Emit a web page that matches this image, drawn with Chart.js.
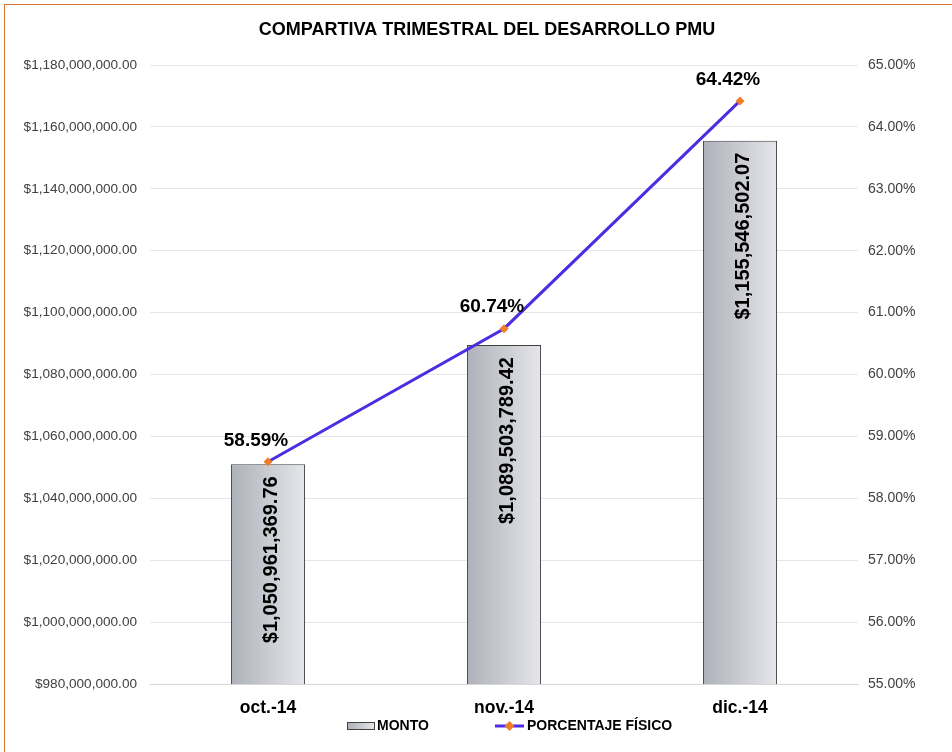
<!DOCTYPE html>
<html>
<head>
<meta charset="utf-8">
<script src="https://cdn.jsdelivr.net/npm/chart.js@4.4.1/dist/chart.umd.min.js"></script>
<style>
  html, body { margin: 0; padding: 0; background: #fff; }
  #wrap { position: relative; width: 952px; height: 752px; }
  #frame { position: absolute; left: 4px; top: 4px; width: 960px; height: 760px;
           border-left: 1.5px solid #dd7337; border-top: 1.5px solid #dd7337; pointer-events: none; }
</style>
</head>
<body>
<div id="wrap">
  <canvas id="chart" width="952" height="752"></canvas>
  <div id="frame"></div>
</div>
<script>
const meses = ['oct.-14', 'nov.-14', 'dic.-14'];
const montos = [1050961369.76, 1089503789.42, 1155546502.07];
const porcentajes = [58.59, 60.74, 64.42];

const FONT = "'Liberation Sans', Arial, sans-serif";
const LINE_COLOR = '#4d2ce2';
const MARKER_COLOR = '#f07d2a';
const BAR_PCT = 0.314;

function money(v) {
  return '$' + v.toLocaleString('en-US', {minimumFractionDigits: 2, maximumFractionDigits: 2});
}

function barGradient(ctx, x0, x1) {
  const g = ctx.createLinearGradient(x0, 0, x1, 0);
  g.addColorStop(0, '#aeb1b9');
  g.addColorStop(1, '#e5e6ea');
  return g;
}

// rotated labels in bars, percentages over the points
const valueLabels = {
  id: 'valueLabels',
  afterDatasetsDraw(chart) {
    const ctx = chart.ctx;
    ctx.save();
    ctx.fillStyle = '#000';
    ctx.font = 'bold 20px ' + FONT;
    chart.getDatasetMeta(0).data.forEach((el, i) => {
      ctx.save();
      ctx.translate(el.x + 3, el.y + 12);
      ctx.rotate(-Math.PI / 2);
      ctx.textAlign = 'right';
      ctx.textBaseline = 'middle';
      ctx.fillText(money(montos[i]), 0, 0);
      ctx.restore();
    });
    ctx.font = 'bold 19px ' + FONT;
    ctx.textAlign = 'center';
    ctx.textBaseline = 'bottom';
    chart.getDatasetMeta(1).data.forEach((pt, i) => {
      ctx.fillText(porcentajes[i].toFixed(2) + '%', pt.x - 12, pt.y - 12);
    });
    ctx.restore();
  },
  afterDraw(chart) {
    const ctx = chart.ctx;
    const y = 726;
    ctx.save();
    // MONTO
    ctx.fillStyle = barGradient(ctx, 347, 375);
    ctx.fillRect(347, y - 4, 28, 8);
    ctx.strokeStyle = '#404040';
    ctx.lineWidth = 1;
    ctx.strokeRect(347.5, y - 3.5, 27, 7);
    ctx.fillStyle = '#000';
    ctx.font = 'bold 14px ' + FONT;
    ctx.textBaseline = 'middle';
    ctx.textAlign = 'left';
    ctx.fillText(chart.data.datasets[0].label, 377, y);
    // PORCENTAJE FÍSICO
    ctx.strokeStyle = LINE_COLOR;
    ctx.lineWidth = 3;
    ctx.beginPath();
    ctx.moveTo(495, y);
    ctx.lineTo(524, y);
    ctx.stroke();
    ctx.fillStyle = MARKER_COLOR;
    ctx.beginPath();
    ctx.moveTo(509.5, y - 5);
    ctx.lineTo(514.5, y);
    ctx.lineTo(509.5, y + 5);
    ctx.lineTo(504.5, y);
    ctx.closePath();
    ctx.fill();
    ctx.fillStyle = '#000';
    ctx.fillText(chart.data.datasets[1].label, 527, y);
    ctx.restore();
  }
};

new Chart(document.getElementById('chart'), {
  type: 'bar',
  data: {
    labels: meses,
    datasets: [
      {
        type: 'bar',
        label: 'MONTO',
        data: montos,
        yAxisID: 'y',
        order: 1,
        backgroundColor: (c) => {
          const chart = c.chart;
          if (!chart.chartArea || !chart.scales.x) return '#c8cacf';
          const x = chart.scales.x.getPixelForValue(c.dataIndex);
          const hw = chart.chartArea.width / meses.length * BAR_PCT / 2;
          return barGradient(chart.ctx, x - hw, x + hw);
        },
        borderColor: '#404040',
        borderWidth: 1,
        categoryPercentage: 1,
        barPercentage: BAR_PCT
      },
      {
        type: 'line',
        label: 'PORCENTAJE FÍSICO',
        data: porcentajes,
        yAxisID: 'y1',
        order: 0,
        borderColor: LINE_COLOR,
        borderWidth: 3,
        pointStyle: 'rectRot',
        pointRadius: 4.5,
        pointBackgroundColor: MARKER_COLOR,
        pointBorderColor: MARKER_COLOR,
        pointBorderWidth: 0,
        tension: 0
      }
    ]
  },
  options: {
    responsive: false,
    animation: false,
    layout: { padding: { left: 22, right: 0, top: 0, bottom: 35 } },
    plugins: {
      legend: { display: false },
      tooltip: { enabled: false },
      title: {
        display: true,
        text: 'COMPARTIVA TRIMESTRAL DEL DESARROLLO PMU',
        color: '#000',
        font: { family: FONT, size: 18, weight: 'bold', lineHeight: 1.2 },
        padding: { top: 19, bottom: 24.4 }
      }
    },
    scales: {
      x: {
        grid: { display: false, drawTicks: false },
        border: { color: '#d9d9d9' },
        ticks: { color: '#000', padding: 14, font: { family: FONT, size: 17.5, weight: 'bold' } },
        afterFit: (s) => { s.height = 33; }
      },
      y: {
        position: 'left',
        min: 980000000,
        max: 1180000000,
        grid: { color: '#e6e6ea', drawTicks: false },
        border: { display: false },
        ticks: {
          stepSize: 20000000,
          padding: 13,
          color: '#404040',
          font: { family: FONT, size: 13.6 },
          callback: (v) => money(v)
        },
        afterFit: (s) => { s.width = 128; }
      },
      y1: {
        position: 'right',
        min: 55,
        max: 65,
        grid: { display: false, drawTicks: false },
        border: { display: false },
        ticks: {
          stepSize: 1,
          padding: 10,
          color: '#404040',
          font: { family: FONT, size: 14 },
          callback: (v) => v.toFixed(2) + '%'
        },
        afterFit: (s) => { s.width = 94; }
      }
    }
  },
  plugins: [valueLabels]
});
</script>
</body>
</html>
